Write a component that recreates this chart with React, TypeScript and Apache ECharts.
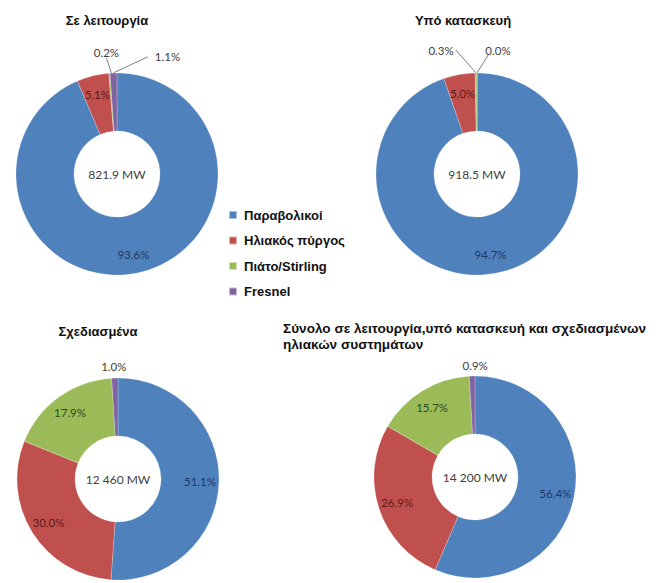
import React, { useEffect, useRef } from "react";
import * as echarts from "echarts";

// Technology categories (legend order = slice order, clockwise from 12 o'clock)
const categories = ["Παραβολικοί", "Ηλιακός πύργος", "Πιάτο/Stirling", "Fresnel"];

// Share of each technology, in percent
const operatingShares = [93.6, 5.1, 0.2, 1.1];
const constructionShares = [94.7, 5.0, 0.3, 0.0];
const plannedShares = [51.1, 30.0, 17.9, 1.0];
const totalShares = [56.4, 26.9, 15.7, 0.9];

const chartTitles = [
  "Σε λειτουργία",
  "Υπό κατασκευή",
  "Σχεδιασμένα",
  "Σύνολο σε λειτουργία,υπό κατασκευή και σχεδιασμένων\nηλιακών συστημάτων",
];
const capacityLabels = ["821.9 MW", "918.5 MW", "12 460 MW", "14 200 MW"];

const sharesByChart = [operatingShares, constructionShares, plannedShares, totalShares];

// ---- styling / layout ----
const sliceColors = ["#4F81BD", "#C0504D", "#9BBB59", "#8064A2"];
const insideLabelColors = ["#1F3864", "#5E1A19", "#2F4A16", "#3B2B55"];
const OUTER_R = 101;
const INNER_R = 43;
const LABEL_RING_INNER = 57;
const SMALL_SHARE = 3;

const pieCenters: [number, number][] = [
  [117, 174],
  [477, 174],
  [118, 479],
  [475, 477],
];

// Title anchors: [x, y, align, fontSize]
const titleAnchors: [number, number, string, number][] = [
  [107, 20, "center", 13],
  [463, 20, "center", 13],
  [98, 331, "center", 13],
  [283, 328, "left", 13.6],
];

// Offsets of the small outside labels from the top of their slice
type SmallLabel = { dx: number; dy: number; line?: "bottom" | "right" | "left" | "lowerLeft" };
const smallLabelPlacement: Record<number, SmallLabel>[] = [
  { 2: { dx: -5, dy: -21, line: "bottom" }, 3: { dx: 54, dy: -16, line: "left" } },
  { 2: { dx: -35, dy: -22, line: "right" }, 3: { dx: 21, dy: -22, line: "lowerLeft" } },
  { 3: { dx: -1, dy: -11 } },
  { 3: { dx: 3, dy: -10 } },
];

const LABEL_FONT = "Lato, 'Open Sans', sans-serif";
const TITLE_FONT = "'Liberation Sans', Arial, sans-serif";
const LABEL_SIZE = 11.5;

const fmt = (v: number) => v.toFixed(1) + "%";

function buildRing(chartIdx: number) {
  const values = sharesByChart[chartIdx];
  const placement = smallLabelPlacement[chartIdx];
  return {
    type: "pie",
    center: pieCenters[chartIdx],
    radius: [INNER_R, OUTER_R],
    startAngle: 90,
    clockwise: true,
    silent: true,
    avoidLabelOverlap: false,
    emphasis: { disabled: true },
    itemStyle: { borderColor: "rgba(255,255,255,0.55)", borderWidth: 0.4 },
    labelLine: {
      show: false,
      lineStyle: { color: "#5a5a5a", width: 0.8 },
    },
    data: categories.map((name, i) => {
      const small = values[i] < SMALL_SHARE;
      const place = placement[i];
      return {
        name,
        value: values[i],
        itemStyle: { color: sliceColors[i] },
        label: {
          show: small,
          position: "outside",
          formatter: (p: any) => fmt(p.value),
          color: "#404040",
          fontFamily: LABEL_FONT,
          fontSize: LABEL_SIZE,
        },
        labelLine: { show: !!(small && place && place.line) },
      };
    }),
    labelLayout: (p: any) => {
      const place = placement[p.dataIndex];
      if (!place) return {};
      const ax = p.rect.x + p.rect.width / 2;
      const ay = p.rect.y;
      const lx = ax + place.dx;
      const ly = ay + place.dy;
      const out: any = { x: lx, y: ly, align: "center", verticalAlign: "middle" };
      if (place.line) {
        const hw = p.labelRect.width / 2;
        let ex = lx;
        let ey = ly;
        if (place.line === "bottom") { ex = lx; ey = ly + 6; }
        if (place.line === "left") { ex = lx - hw - 7; ey = ly; }
        if (place.line === "right") { ex = lx + hw + 2; ey = ly - 1; }
        if (place.line === "lowerLeft") { ex = lx - hw + 3; ey = ly + 4; }
        out.labelLinePoints = [
          [ax, ay],
          [(ax + ex) / 2, (ay + ey) / 2],
          [ex, ey],
        ];
      }
      return out;
    },
  };
}

// Transparent twin ring that only carries the inside percentage labels
function buildLabelRing(chartIdx: number) {
  const values = sharesByChart[chartIdx];
  return {
    type: "pie",
    center: pieCenters[chartIdx],
    radius: [LABEL_RING_INNER, OUTER_R],
    startAngle: 90,
    clockwise: true,
    silent: true,
    emphasis: { disabled: true },
    labelLine: { show: false },
    data: categories.map((name, i) => ({
      name,
      value: values[i],
      itemStyle: { color: "rgba(0,0,0,0)" },
      label: {
        show: values[i] >= SMALL_SHARE,
        position: "inside",
        formatter: (p: any) => fmt(p.value),
        color: insideLabelColors[i],
        fontFamily: LABEL_FONT,
        fontSize: LABEL_SIZE,
      },
    })),
  };
}

export default function App() {
  const ref = useRef<HTMLDivElement>(null);

  useEffect(() => {
    document.body.style.margin = "0";
    document.body.style.background = "#ffffff";
    if (!ref.current) return;
    const chart = echarts.init(ref.current, undefined, { renderer: "svg" });

    const titleTexts = chartTitles.map((t, i) => ({
      type: "text",
      x: titleAnchors[i][0],
      // the two-line title is top-anchored so its first line centre sits on the anchor
      y: i === 3 ? titleAnchors[i][1] - 8 : titleAnchors[i][1],
      style: {
        text: t,
        align: titleAnchors[i][2],
        verticalAlign: i === 3 ? "top" : "middle",
        fill: "#111111",
        font: `bold ${titleAnchors[i][3]}px ${TITLE_FONT}`,
        lineHeight: 16,
      },
    }));

    const centerTexts = capacityLabels.map((t, i) => ({
      type: "text",
      x: pieCenters[i][0],
      y: pieCenters[i][1],
      style: {
        text: t,
        align: "center",
        verticalAlign: "middle",
        fill: "#404040",
        font: `12px ${LABEL_FONT}`,
      },
    }));

    chart.setOption({
      animation: false,
      backgroundColor: "#ffffff",
      color: sliceColors,
      legend: {
        data: categories,
        orient: "vertical",
        left: 228,
        top: 208,
        itemWidth: 8,
        itemHeight: 8,
        itemGap: 11.5,
        icon: "rect",
        selectedMode: false,
        padding: 0,
        textStyle: {
          fontFamily: TITLE_FONT,
          fontWeight: "bold",
          fontSize: 13,
          color: "#111111",
          lineHeight: 14,
          padding: [0, 0, 0, 2],
        },
      },
      series: [
        buildRing(0),
        buildRing(1),
        buildRing(2),
        buildRing(3),
        buildLabelRing(0),
        buildLabelRing(1),
        buildLabelRing(2),
        buildLabelRing(3),
      ],
      graphic: [...titleTexts, ...centerTexts],
    });

    return () => chart.dispose();
  }, []);

  return <div ref={ref} style={{ width: 660, height: 583 }} />;
}
